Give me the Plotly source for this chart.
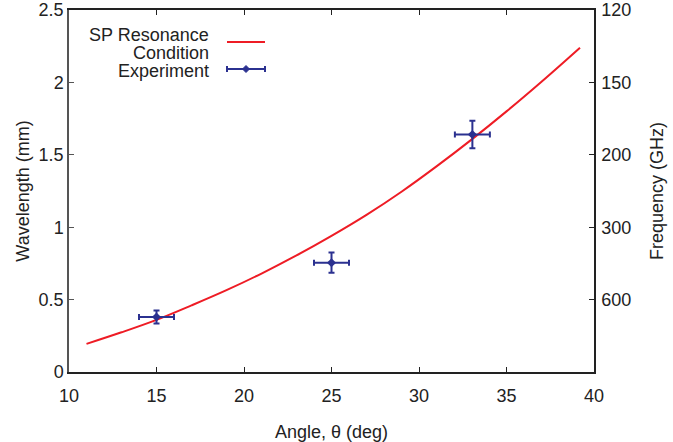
import plotly.graph_objects as go

# Resonance condition curve
curve_angle = [11, 13, 15, 17, 19, 21, 23, 25, 27, 29, 31, 33, 35, 37, 39.2]
curve_wavelength = [0.194, 0.274, 0.36, 0.46, 0.565, 0.68, 0.805, 0.94, 1.085, 1.245, 1.42, 1.605, 1.80, 2.005, 2.24]

# Experiment points
exp_angle = [15, 25, 33.05]
exp_wavelength = [0.38, 0.755, 1.64]
exp_angle_err = [1.0, 1.0, 1.0]
exp_wavelength_err = [0.045, 0.07, 0.095]

# Axis ticks
x_ticks = [10, 15, 20, 25, 30, 35, 40]
y_ticks = [0, 0.5, 1, 1.5, 2, 2.5]
y_ticklabels = ["0", "0.5", "1", "1.5", "2", "2.5"]
freq_tickvals = [0.5, 1, 1.5, 2, 2.5]
freq_ticklabels = ["600", "300", "200", "150", "120"]

RED = "#ee1c25"
BLUE = "#2b3190"
TXT = "#222222"
FONT = "Liberation Sans, Arial, sans-serif"
FS = 18

fig = go.Figure()
fig.add_trace(go.Scatter(x=curve_angle, y=curve_wavelength, mode="lines",
                         line=dict(color=RED, width=2, shape="spline"),
                         showlegend=False, hoverinfo="skip"))
fig.add_trace(go.Scatter(x=exp_angle, y=exp_wavelength, mode="markers",
                         marker=dict(color=BLUE, symbol="diamond", size=7),
                         error_x=dict(type="data", array=exp_angle_err, color=BLUE, thickness=2, width=3),
                         error_y=dict(type="data", array=exp_wavelength_err, color=BLUE, thickness=2, width=3),
                         showlegend=False))
# invisible trace for right axis
fig.add_trace(go.Scatter(x=[exp_angle[0]], y=[exp_wavelength[0]], yaxis="y2", mode="markers",
                         marker=dict(opacity=0), showlegend=False, hoverinfo="skip"))

W, H = 673, 442
L, T = 69, 10
pw, ph = 525, 362
R, B = W - L - pw, H - T - ph

def px(x):  # x in window pixels
    return (x - L) / pw

def py(y):  # y in window pixels
    return (T + ph - y) / ph

shapes = []
# legend samples
shapes.append(dict(type="line", xref="paper", yref="paper", x0=px(227), x1=px(265), y0=py(42), y1=py(42),
                   line=dict(color=RED, width=2)))
shapes.append(dict(type="line", xref="paper", yref="paper", x0=px(227), x1=px(265), y0=py(69), y1=py(69),
                   line=dict(color=BLUE, width=2)))
for cx in (227, 265):
    shapes.append(dict(type="line", xref="paper", yref="paper", x0=px(cx), x1=px(cx), y0=py(66), y1=py(72),
                       line=dict(color=BLUE, width=2)))
dx, dy = 3.5, 3.5
cxp, cyp = 246, 69
path = (f"M {px(cxp - dx)},{py(cyp)} L {px(cxp)},{py(cyp - dy)} "
        f"L {px(cxp + dx)},{py(cyp)} L {px(cxp)},{py(cyp + dy)} Z")
shapes.append(dict(type="path", xref="paper", yref="paper", path=path,
                   fillcolor=BLUE, line=dict(color=BLUE, width=1)))

annotations = []
for text, yy in (("SP Resonance", 35), ("Condition", 53), ("Experiment", 71)):
    annotations.append(dict(text=text, xref="paper", yref="paper", x=px(211), y=py(yy),
                            xanchor="right", yanchor="middle", showarrow=False,
                            font=dict(family=FONT, size=FS, color=TXT)))

fig.update_layout(
    width=W, height=H,
    margin=dict(l=L, r=R, t=T, b=B),
    paper_bgcolor="white", plot_bgcolor="white",
    font=dict(family=FONT, size=FS, color=TXT),
    shapes=shapes, annotations=annotations,
    xaxis=dict(range=[10, 40], tickvals=x_ticks, ticks="inside", ticklen=5, tickcolor="#222",
               showline=True, linecolor="#222", linewidth=1.5, mirror="ticks",
               showgrid=False, zeroline=False, automargin=False, ticklabelstandoff=7,
               title=dict(text="Angle, θ (deg)", standoff=25, font=dict(size=FS))),
    yaxis=dict(range=[0, 2.5], tickvals=y_ticks, ticktext=y_ticklabels, ticks="inside", ticklen=5,
               tickcolor="#555", showline=True, linecolor="#555", linewidth=1.5,
               showgrid=False, zeroline=False, automargin=False,
               title=dict(text="Wavelength (mm)", standoff=4, font=dict(size=FS))),
    yaxis2=dict(range=[0, 2.5], overlaying="y", side="right", tickvals=freq_tickvals,
                ticktext=freq_ticklabels, ticks="inside", ticklen=5, tickcolor="#222",
                showline=True, linecolor="#222", linewidth=1.5, showgrid=False, zeroline=False,
                automargin=False, ticklabelstandoff=2,
                title=dict(text="Frequency (GHz)", standoff=20, font=dict(size=FS))),
)

fig.write_html("out.html", config={"displayModeBar": False},
               post_script="document.body.style.margin='0';")
